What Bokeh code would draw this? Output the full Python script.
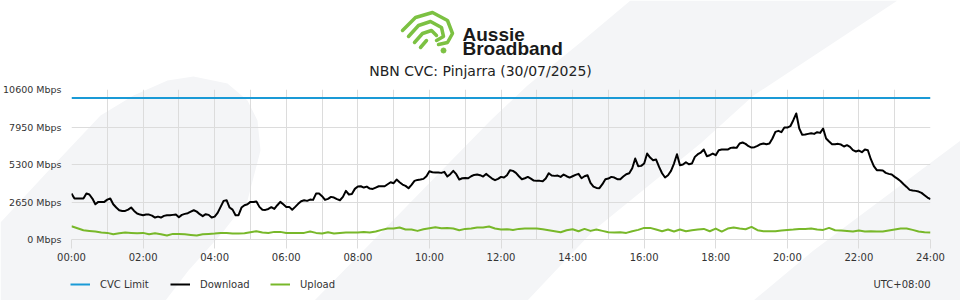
import numpy as np
from bokeh.plotting import figure
from bokeh.models import (Range1d, FixedTicker, Legend, LegendItem, ColumnDataSource)
from bokeh.core.properties import value
from bokeh.embed import file_html
from bokeh.resources import INLINE

# ---------------- data ----------------
TITLE = "NBN CVC: Pinjarra (30/07/2025)"
TIMEZONE = "UTC+08:00"
CVC_LIMIT = 10000  # Mbps
SERIES_NAMES = ["CVC Limit", "Download", "Upload"]

Y_TICKS = [0, 2650, 5300, 7950, 10600]
Y_TICK_LABELS = ["0 Mbps", "2650 Mbps", "5300 Mbps", "7950 Mbps", "10600 Mbps"]
X_TICKS = [0, 2, 4, 6, 8, 10, 12, 14, 16, 18, 20, 22, 24]
X_TICK_LABELS = ["00:00", "02:00", "04:00", "06:00", "08:00", "10:00", "12:00",
                 "14:00", "16:00", "18:00", "20:00", "22:00", "24:00"]
X_MINOR = [1, 3, 5, 7, 9, 11, 13, 15, 17, 19, 21, 23]

DOWNLOAD_STEP_MIN = 5
DOWNLOAD = [
    3247, 2894, 2894, 2894, 2900, 3250, 3180, 2894, 2490, 2658, 2658, 2658,
    2820, 2894, 2490, 2260, 2069, 2020, 2020, 2110, 2260, 2020, 1834, 1760,
    1716, 1760, 1760, 1690, 1550, 1620, 1550, 1670, 1716, 1716, 1740, 1760,
    1570, 1740, 1810, 1860, 1970, 2069, 1970, 1790, 1650, 1790, 1740, 1550,
    1620, 1880, 2305, 2730, 2776, 2260, 2110, 1716, 1716, 2260, 2423, 2490,
    2658, 2658, 2680, 2305, 2110, 2090, 2160, 2280, 2160, 2423, 2658, 2490,
    2305, 2305, 2110, 2305, 2520, 2706, 2776, 2730, 2820, 2800, 3247, 3247,
    3060, 2800, 2870, 3012, 2965, 2850, 2776, 3012, 3436, 3180, 3220, 3577,
    3740, 3765, 3670, 3740, 3600, 3577, 3670, 3765, 3765, 3765, 3907, 4048,
    3978, 4237, 4048, 3883, 3790, 3624, 3860, 4143, 4213, 4237, 4284, 4472,
    4826, 4755, 4731, 4731, 4708, 4778, 4448, 4614, 4850, 4614, 4237, 4331,
    4354, 4331, 4472, 4566, 4590, 4543, 4448, 4637, 4472, 4307, 4190, 4284,
    4425, 4378, 4543, 4897, 4850, 4708, 4472, 4260, 4331, 4425, 4307, 4166,
    4143, 4143, 4120, 4307, 4684, 4520, 4496, 4520, 4425, 4590, 4472, 4378,
    4472, 4566, 4637, 4331, 4472, 4543, 4001, 3740, 3647, 3624, 3907, 4260,
    4307, 4425, 4378, 4260, 4260, 4448, 4614, 4684, 5038, 5721, 5180, 5203,
    5368, 6075, 5792, 5604, 5650, 5132, 4684, 4378, 4543, 4850, 5368, 6028,
    5250, 5297, 5462, 5320, 5368, 5839, 6028, 6145, 6357, 5886, 5957, 6075,
    5957, 6310, 6357, 6357, 6357, 6475, 6498, 6475, 6781, 6852, 6758, 6593,
    6498, 6522, 6616, 6734, 6781, 6734, 6781, 7135, 7606, 7677, 7582, 7912,
    7912, 8007, 8431, 8902, 7841, 7394, 7417, 7464, 7512, 7464, 7582, 7535,
    7841, 7135, 6923, 6734, 6734, 6758, 6710, 6570, 6664, 6546, 6310, 6216,
    6286, 6169, 6357, 6310, 5674, 5180, 4897, 4897, 4873, 4708, 4637, 4590,
    4425, 4284, 4120, 3907, 3718, 3506, 3459, 3436, 3388, 3294, 3130, 2965,
    2847,
]

UPLOAD_STEP_MIN = 10
UPLOAD = [
    938, 797, 656, 608, 561, 490, 467, 373, 443, 490,
    467, 443, 467, 373, 443, 373, 279, 396, 396, 373,
    326, 279, 373, 396, 420, 467, 467, 420, 420, 443,
    514, 585, 490, 467, 538, 538, 467, 467, 467, 467,
    561, 467, 420, 514, 420, 467, 490, 490, 490, 538,
    490, 561, 679, 773, 773, 844, 703, 703, 608, 726,
    797, 867, 797, 820, 773, 656, 750, 773, 844, 844,
    914, 773, 703, 726, 679, 750, 773, 773, 773, 726,
    656, 585, 514, 656, 726, 585, 750, 608, 703, 608,
    514, 490, 514, 467, 585, 679, 820, 820, 703, 585,
    703, 561, 703, 585, 656, 703, 750, 585, 773, 561,
    773, 844, 773, 726, 891, 656, 585, 585, 585, 632,
    679, 703, 750, 750, 773, 703, 679, 820, 656, 632,
    608, 561, 632, 561, 585, 561, 561, 632, 703, 773,
    773, 679, 561, 514, 490,
]

# ---------------- styles ----------------
BLUE = "#1a9ad6"
GREEN = "#78b82a"
LOGO_GREEN = "#7cc142"
GRID = "#dcdcdc"
BG_GRAY = "#f4f5f7"
TEXT = "#333333"
FONT = "DejaVu Sans"
SERIES_COLORS = [BLUE, "black", GREEN]

# ============ background / decoration layer (pixel coordinates) ============
bg = figure(width=960, height=300, output_backend="svg", toolbar_location=None,
            x_range=Range1d(0, 960), y_range=Range1d(300, 0),
            x_axis_location=None, y_axis_location=None,
            min_border_left=0, min_border_right=0, min_border_top=0, min_border_bottom=0)
bg.outline_line_color = None
bg.border_fill_color = "white"
bg.background_fill_color = "white"
bg.xgrid.visible = False
bg.ygrid.visible = False

bg_xs = [
    [0, 0, 50, 100, 133, 167, 193, 227, 247, 257, 260, 247, 222, 188, 165],
    [314, 363, 490, 527, 580, 630, 897, 753, 700, 593, 527],
    [753, 813, 940, 960, 960],
]
bg_ys = [
    [300, 222, 168, 115, 95, 80, 76, 83, 100, 120, 150, 200, 232, 270, 300],
    [300, 250, 120, 85, 42, 0, 0, 95, 143, 230, 300],
    [300, 250, 155, 140, 300],
]
bg.patches(bg_xs, bg_ys, fill_color=BG_GRAY, line_color=None)

logo_xs = [[402, 415, 432, 447, 452, 447, 438],
           [408, 418, 430, 441, 443, 436],
           [414, 422, 431, 436],
           [420, 426]]
logo_ys = [[30, 17, 12, 20, 33, 42, 44],
           [36, 25, 21, 27, 36, 40],
           [42, 33, 30, 35],
           [47, 40]]
bg.multi_line(logo_xs, logo_ys, line_color=LOGO_GREEN, line_width=3.5,
              line_cap="round", line_join="round")
bg.scatter([443], [50], size=5, color=LOGO_GREEN)
bg.text([462, 462], [34, 48], text=["Aussie", "Broadband"],
        text_font=value("Liberation Sans"), text_font_style="bold",
        text_font_size="19px", text_color="#1a1a1a",
        text_align="left", text_baseline="alphabetic")
bg.text([480], [70], text=[TITLE], text_font=value(FONT), text_font_size="14px",
        text_color="#222222", text_align="center", text_baseline="middle")
bg.text([930], [284], text=[TIMEZONE], text_font=value(FONT), text_font_size="10px",
        text_color=TEXT, text_align="right", text_baseline="middle")

# legend: key samples that share the series' styles (drawn off-canvas)
legend_keys = [bg.line([-20, -10], [-20, -20], line_color=c, line_width=2)
               for c in SERIES_COLORS]
legend = Legend(items=[LegendItem(label=n, renderers=[r])
                       for n, r in zip(SERIES_NAMES, legend_keys)],
                orientation="horizontal", location=(70, 6),
                glyph_width=20, glyph_height=20, label_height=20, label_width=70,
                label_standoff=10, spacing=0, padding=0, margin=0,
                border_line_color=None, background_fill_alpha=0,
                label_text_font=FONT, label_text_font_size="10px",
                label_text_color=TEXT)
bg.add_layout(legend)

# ============ chart layer (overlaid on top, transparent) ============
dl_hours = np.arange(len(DOWNLOAD)) * DOWNLOAD_STEP_MIN / 60.0
ul_hours = np.arange(len(UPLOAD)) * UPLOAD_STEP_MIN / 60.0

p = figure(width=960, height=300, output_backend="svg", toolbar_location=None,
           x_range=Range1d(0, 24), y_range=Range1d(0, 10600),
           min_border_left=70, min_border_right=30, min_border_top=89,
           min_border_bottom=61)
p.border_fill_color = None
p.background_fill_color = None
p.outline_line_color = None
p.styles = {"position": "absolute", "top": "0px", "left": "0px",
            "width": "960px", "height": "300px"}

src_dl = ColumnDataSource(dict(h=dl_hours, v=DOWNLOAD))
src_ul = ColumnDataSource(dict(h=ul_hours, v=UPLOAD))
src_cvc = ColumnDataSource(dict(h=[0, 24], v=[CVC_LIMIT, CVC_LIMIT]))

p.line("h", "v", source=src_cvc, line_color=SERIES_COLORS[0], line_width=2)
p.line("h", "v", source=src_dl, line_color=SERIES_COLORS[1], line_width=2, line_join="round")
p.line("h", "v", source=src_ul, line_color=SERIES_COLORS[2], line_width=2, line_join="round")

p.xaxis.ticker = FixedTicker(ticks=X_TICKS, minor_ticks=X_MINOR)
p.xaxis.major_label_overrides = dict(zip(X_TICKS, X_TICK_LABELS))
p.yaxis.ticker = FixedTicker(ticks=Y_TICKS)
p.yaxis.major_label_overrides = dict(zip(Y_TICKS, Y_TICK_LABELS))
p.xgrid.ticker = FixedTicker(ticks=X_TICKS, minor_ticks=X_MINOR)
p.xgrid.grid_line_color = GRID
p.xgrid.minor_grid_line_color = GRID
p.ygrid.grid_line_color = GRID

for ax in (p.xaxis, p.yaxis):
    ax.major_label_text_font = FONT
    ax.major_label_text_color = TEXT
    ax.minor_tick_line_color = None
    ax.major_tick_in = 0
p.xaxis.major_label_text_font_size = "10px"
p.yaxis.major_label_text_font_size = "9.5px"
p.xaxis.axis_line_color = GRID
p.xaxis.major_tick_line_color = GRID
p.xaxis.major_tick_out = 9
p.xaxis.major_label_standoff = 3
p.yaxis.axis_line_color = None
p.yaxis.major_tick_line_color = None
p.yaxis.major_tick_out = 0
p.yaxis.major_label_standoff = 10

open("out.html", "w").write(file_html([bg, p], INLINE))
